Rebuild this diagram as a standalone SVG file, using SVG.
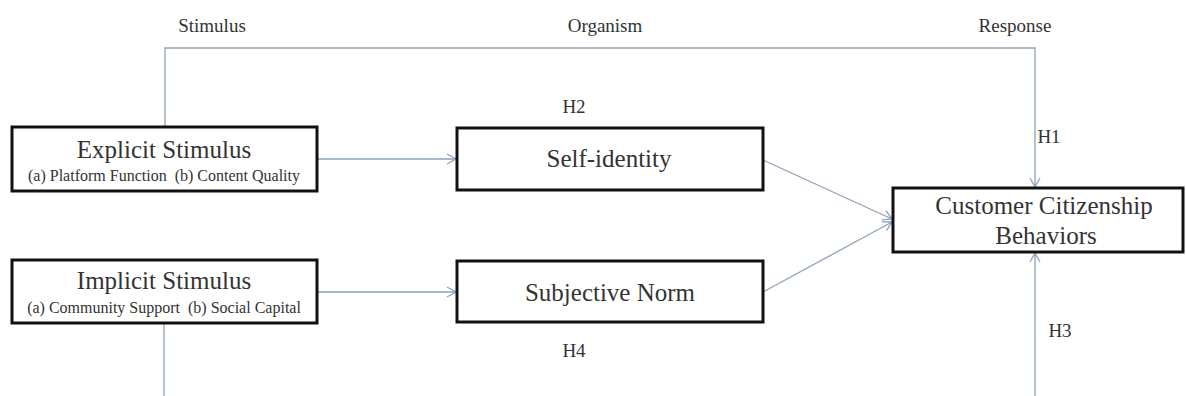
<svg xmlns="http://www.w3.org/2000/svg" width="1186" height="396" viewBox="0 0 1186 396">
<style>
.box{fill:#fff;stroke:#111;stroke-width:3}
.t{font-family:"Liberation Serif","Times New Roman",serif;fill:#333;text-anchor:middle}
.big{font-size:25px}
.small{font-size:16px}
.lab{font-size:19px}
.c{fill:none;stroke:#8ea2b8;stroke-width:1.3}
</style>
<defs>
<marker id="ah" markerWidth="12" markerHeight="12" refX="10" refY="6" orient="auto" markerUnits="userSpaceOnUse">
<path d="M1,1 L10,6 L1,11" fill="none" stroke="#8ea2b8" stroke-width="1.3"/>
</marker>
</defs>
<rect width="1186" height="396" fill="#fff"/>
<g id="connectors">
<path class="c" d="M165,127 V48 H1035 V187" marker-end="url(#ah)"/>
<path class="c" d="M317,159 H456" marker-end="url(#ah)"/>
<path class="c" d="M317,292 H456" marker-end="url(#ah)"/>
<path class="c" d="M763,160 L892,219" marker-end="url(#ah)"/>
<path class="c" d="M763,292 L892,222" marker-end="url(#ah)"/>
<path class="c" d="M1035,396 V253" marker-end="url(#ah)"/>
<path class="c" d="M164,323 V396"/>
</g>
<g id="labels">
<text class="t lab" x="212" y="32">Stimulus</text>
<text class="t lab" x="605" y="32">Organism</text>
<text class="t lab" x="1015" y="32">Response</text>
<text class="t lab" x="574" y="113">H2</text>
<text class="t lab" x="1049" y="143">H1</text>
<text class="t lab" x="574" y="357">H4</text>
<text class="t lab" x="1060" y="337">H3</text>
</g>
<g id="explicit">
<rect class="box" x="12" y="127" width="305" height="64"/>
<text class="t big" x="164" y="158">Explicit Stimulus</text>
<text class="t small" x="164" y="181" xml:space="preserve">(a) Platform Function  (b) Content Quality</text>
</g>
<g id="implicit">
<rect class="box" x="12" y="260" width="305" height="63"/>
<text class="t big" x="164" y="289">Implicit Stimulus</text>
<text class="t small" x="164" y="313" xml:space="preserve">(a) Community Support  (b) Social Capital</text>
</g>
<g id="selfidentity">
<rect class="box" x="457" y="128" width="306" height="62"/>
<text class="t big" x="609" y="167">Self-identity</text>
</g>
<g id="subjectivenorm">
<rect class="box" x="457" y="261" width="306" height="61"/>
<text class="t big" x="610" y="301">Subjective Norm</text>
</g>
<g id="ccb">
<rect class="box" x="893" y="188" width="290" height="64"/>
<text class="t big" x="1044" y="214">Customer Citizenship</text>
<text class="t big" x="1046" y="244">Behaviors</text>
</g>
</svg>
